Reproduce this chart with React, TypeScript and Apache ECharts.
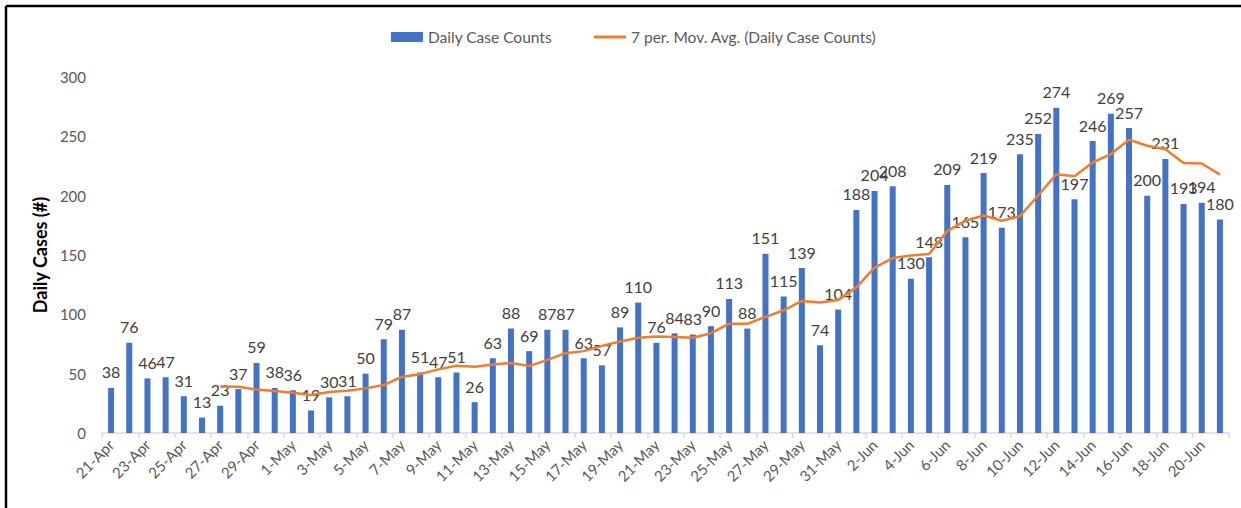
import React, { useEffect, useRef } from "react";
import * as echarts from "echarts";

const dates = [
  "21-Apr", "22-Apr", "23-Apr", "24-Apr", "25-Apr", "26-Apr", "27-Apr", "28-Apr", "29-Apr", "30-Apr",
  "1-May", "2-May", "3-May", "4-May", "5-May", "6-May", "7-May", "8-May", "9-May", "10-May",
  "11-May", "12-May", "13-May", "14-May", "15-May", "16-May", "17-May", "18-May", "19-May", "20-May",
  "21-May", "22-May", "23-May", "24-May", "25-May", "26-May", "27-May", "28-May", "29-May", "30-May",
  "31-May", "1-Jun", "2-Jun", "3-Jun", "4-Jun", "5-Jun", "6-Jun", "7-Jun", "8-Jun", "9-Jun",
  "10-Jun", "11-Jun", "12-Jun", "13-Jun", "14-Jun", "15-Jun", "16-Jun", "17-Jun", "18-Jun", "19-Jun",
  "20-Jun", "21-Jun",
];

const dailyCases = [
  38, 76, 46, 47, 31, 13, 23, 37, 59, 38,
  36, 19, 30, 31, 50, 79, 87, 51, 47, 51,
  26, 63, 88, 69, 87, 87, 63, 57, 89, 110,
  76, 84, 83, 90, 113, 88, 151, 115, 139, 74,
  104, 188, 204, 208, 130, 148, 209, 165, 219, 173,
  235, 252, 274, 197, 246, 269, 257, 200, 231, 193,
  194, 180,
];

const movingAvg: (number | null)[] = [
  null, null, null, null, null, null, 39.1, 39.0, 36.6, 35.4,
  33.9, 32.1, 34.6, 35.7, 37.6, 40.4, 47.4, 49.6, 53.6, 56.6,
  55.9, 57.7, 59.0, 56.4, 61.6, 67.3, 69.0, 73.4, 77.1, 80.3,
  81.3, 80.9, 80.3, 84.1, 92.1, 92.0, 97.9, 103.4, 111.3, 110.0,
  112.0, 122.7, 139.3, 147.4, 149.6, 150.9, 170.1, 178.9, 183.3, 178.9,
  182.7, 200.1, 218.1, 216.4, 228.0, 235.1, 247.1, 242.1, 239.1, 227.6,
  227.1, 217.7,
];

const seriesNames = ["Daily Case Counts", "7 per. Mov. Avg. (Daily Case Counts)"];
const yAxisName = "Daily Cases (#)";

const FONT = "Lato, 'Noto Sans', sans-serif";

export default function App() {
  const ref = useRef<HTMLDivElement>(null);
  useEffect(() => {
    if (!ref.current) return;
    const chart = echarts.init(ref.current, null, { renderer: "svg" });
    chart.setOption({
      animation: false,
      backgroundColor: "#ffffff",
      textStyle: { fontFamily: FONT },
      legend: {
        top: 24,
        left: 386,
        itemGap: 42,
        itemWidth: 32,
        itemHeight: 10,
        textStyle: { color: "#595959", fontSize: 15.5, fontFamily: FONT },
        data: [
          { name: seriesNames[0], icon: "rect" },
          { name: seriesNames[1], icon: "path://M0,0 L32,0 L32,3 L0,3 Z" },
        ],
      },
      grid: { left: 102, right: 12, top: 77, bottom: 75, containLabel: false },
      xAxis: {
        type: "category",
        data: dates,
        boundaryGap: true,
        axisLine: { show: true, lineStyle: { color: "#d9d9d9", width: 1.5 } },
        axisTick: { show: true, interval: 1, length: 5, alignWithLabel: false, lineStyle: { color: "#d9d9d9", width: 1.5 } },
        axisLabel: { interval: 1, rotate: 45, color: "#595959", fontSize: 15, margin: 9, fontFamily: FONT },
        splitLine: { show: false },
      },
      yAxis: {
        type: "value",
        min: 0,
        max: 300,
        interval: 50,
        name: yAxisName,
        nameLocation: "middle",
        nameGap: 46,
        nameTextStyle: { color: "#000000", fontSize: 18, fontWeight: "bold", fontFamily: FONT },
        axisLine: { show: false },
        axisTick: { show: false },
        splitLine: { show: false },
        axisLabel: { color: "#595959", fontSize: 15, margin: 16, fontFamily: FONT },
      },
      series: [
        {
          name: seriesNames[0],
          type: "bar",
          data: dailyCases,
          barWidth: 6,
          itemStyle: { color: "#4472C4" },
          label: { show: true, position: "top", distance: 8, color: "#404040", fontSize: 16, fontFamily: FONT },
          z: 2,
        },
        {
          name: seriesNames[1],
          type: "line",
          data: movingAvg,
          symbol: "none",
          showSymbol: false,
          connectNulls: false,
          lineStyle: { color: "#ED7D31", width: 2.5 },
          itemStyle: { color: "#ED7D31" },
          z: 3,
        },
      ],
      graphic: [
        { type: "line", shape: { x1: 6, y1: 6, x2: 1241, y2: 6 }, style: { stroke: "#000", lineWidth: 2.5 }, z: 10 },
        { type: "line", shape: { x1: 6, y1: 6, x2: 6, y2: 508 }, style: { stroke: "#000", lineWidth: 2.5 }, z: 10 },
      ],
    });
    return () => chart.dispose();
  }, []);
  return <div ref={ref} style={{ position: "absolute", left: 0, top: 0, width: 1241, height: 508 }} />;
}
